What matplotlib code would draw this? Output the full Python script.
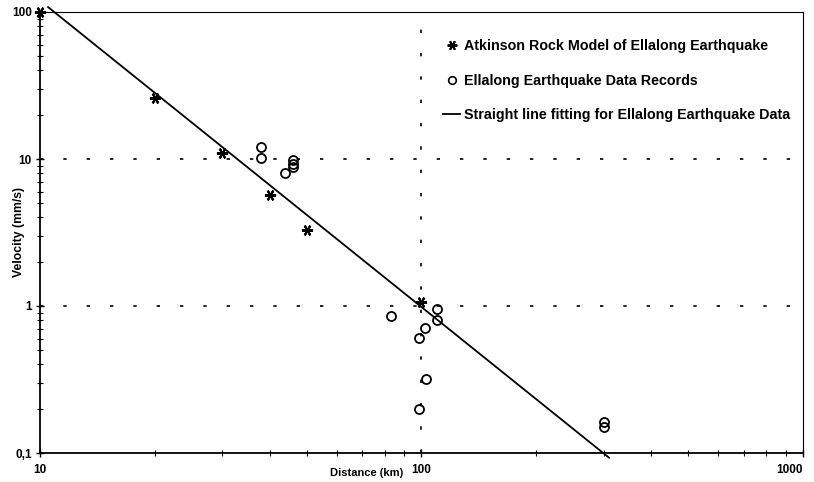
import matplotlib
matplotlib.use("Agg")
import matplotlib.pyplot as plt
from matplotlib.lines import Line2D

# ---- data ----
atk_dist = [10, 20, 30, 40, 50, 100]
atk_vel = [100, 26, 11, 5.7, 3.3, 1.07]

rec_dist = [38, 38, 46, 46, 46, 44, 83, 110, 110, 102, 98.5, 103, 98.5, 300, 300]
rec_vel = [12.1, 10.1, 9.8, 9.3, 8.8, 8.0, 0.85, 0.95, 0.80, 0.71, 0.61, 0.32, 0.20, 0.163, 0.150]

fit_dist = [10.5, 310]
fit_vel = [108, 0.093]

x_ticks = [10, 100, 1000]
x_ticklabels = ["10", "100", "1000"]
y_ticks = [0.1, 1, 10, 100]
y_ticklabels = ["0,1", "1", "10", "100"]

plt.rcParams['font.family'] = ['Liberation Sans', 'DejaVu Sans']

fig = plt.figure(figsize=(8.14, 4.82), dpi=100)
ax = fig.add_axes([40/814, 1-453/482, (803-40)/814, (453-12)/482])
ax.set_xscale('log')
ax.set_yscale('log')
ax.set_xlim(10, 1000)
ax.set_ylim(0.1, 100)

# grid lines (dotted)
grid_style = dict(color='black', lw=1.2, ls=(0, (2, 12)), zorder=1)
for yv in [1, 10]:
    ax.axhline(yv, **grid_style)
ax.axvline(100, **grid_style)

star = (6, 2, 90)
ax.plot(fit_dist, fit_vel, color='black', lw=1.3, clip_on=False, zorder=3)
ax.plot(atk_dist, atk_vel, ls='none', marker=star, ms=8, mew=1.5,
        color='black', clip_on=False, zorder=4)
ax.plot(rec_dist, rec_vel, ls='none', marker='o', ms=6.5, mfc='none',
        mec='black', mew=1.3, clip_on=False, zorder=4)

ax.set_xticks(x_ticks)
ax.set_xticklabels(x_ticklabels)
ax.set_yticks(y_ticks)
ax.set_yticklabels(y_ticklabels)
ax.tick_params(axis='both', which='major', direction='inout', length=6,
               width=1, labelsize=8.5)
ax.tick_params(axis='both', which='minor', direction='inout', length=4, width=0.8)
ax.tick_params(axis='x', which='major', pad=5)
ax.tick_params(axis='y', which='major', pad=3)
ax.tick_params(axis='y', which='minor', labelleft=False)
ax.tick_params(axis='x', which='minor', labelbottom=False)
for lbl in ax.get_xticklabels() + ax.get_yticklabels():
    lbl.set_fontweight('bold')
# keep the last x label inside the canvas
ax.get_xticklabels()[-1].set_horizontalalignment('right')

for s in ['left', 'bottom']:
    ax.spines[s].set_linewidth(1.3)
for s in ['top', 'right']:
    ax.spines[s].set_linewidth(0.8)
    ax.spines[s].set_linestyle((0, (3, 1)))

fig.text(367/814, 1-473/482, "Distance (km)", ha='center', va='center',
         fontsize=8, fontweight='bold')
fig.text(19/814, 1-232/482, "Velocity (mm/s)", ha='center', va='center',
         rotation=90, fontsize=8.8, fontweight='bold')

handles = [
    Line2D([], [], ls='none', marker=star, ms=7, mew=1.4, color='black'),
    Line2D([], [], ls='none', marker='o', ms=5.5, mfc='none', mec='black', mew=1.2),
    Line2D([], [], color='black', lw=1.3),
]
labels = ["Atkinson Rock Model of Ellalong Earthquake",
          "Ellalong Earthquake Data Records",
          "Straight line fitting for Ellalong Earthquake Data"]
fig.legend(handles, labels, loc='upper left', bbox_to_anchor=(443/814, 1-39/482),
           frameon=False, borderpad=0, borderaxespad=0, handlelength=1.2,
           handletextpad=0.3, labelspacing=1.45,
           prop={'family': 'Liberation Sans', 'weight': 'bold', 'size': 10.3})

fig.savefig("out.png", dpi=100)
